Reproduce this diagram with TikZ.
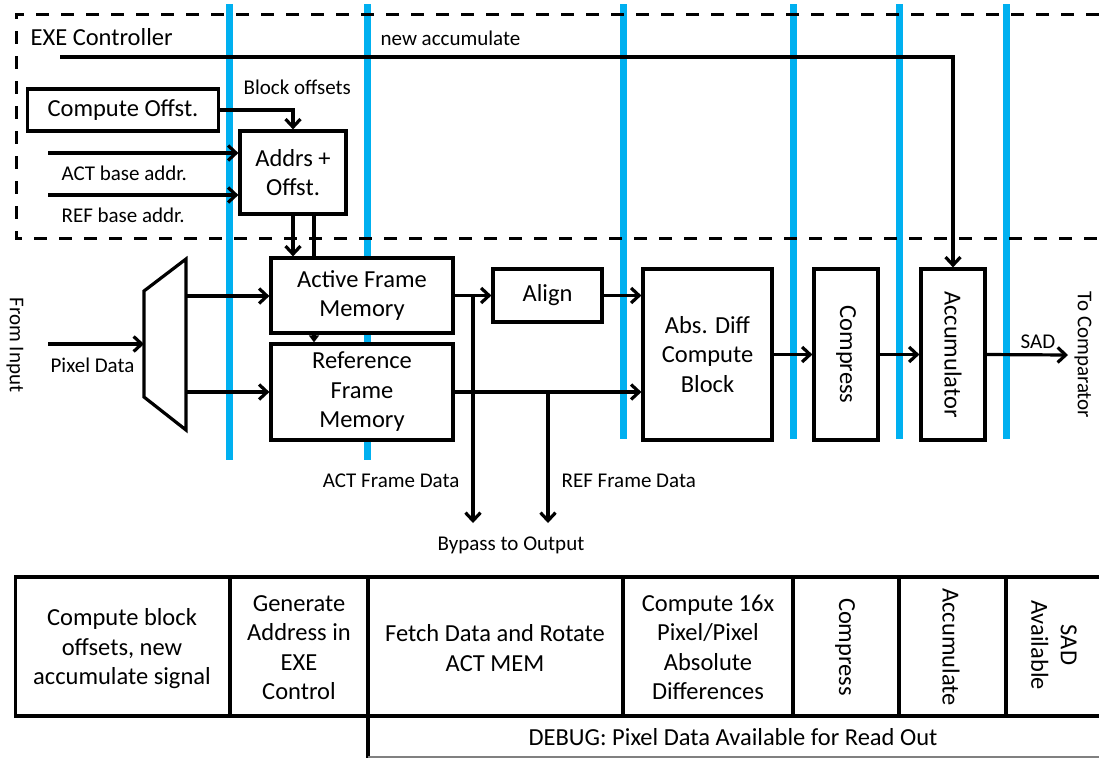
\documentclass[tikz,border=0pt]{standalone}
\usepackage{fontspec}
\setmainfont{Carlito}
\usetikzlibrary{arrows.meta,calc}
\definecolor{pipe}{RGB}{0,176,240}
\begin{document}
\begin{tikzpicture}[x=1pt,y=-1pt,
  line width=3.2pt,
  big/.style={font=\fontsize{24.5}{29.5}\selectfont},
  small/.style={font=\fontsize{21}{25}\selectfont},
  blk/.style={draw, fill=white, inner sep=0pt, align=center, big},
  arr/.style={-{Straight Barb[length=8pt,width=15pt]}},
  stage/.style={draw=pipe, line width=7pt},
  lbl/.style={inner sep=0pt, small},
  cell/.style={inner sep=0pt, align=center, big},
]
\useasboundingbox (0,0) rectangle (1099,758);

% pipeline stage lines
\foreach \x/\yb in {229/460,367/460,623/439,793/439,899/439,1006/439}
  \draw[stage] (\x,4) -- (\x,\yb);

% EXE controller dashed region
\draw[line width=3pt, dash pattern=on 13pt off 12pt] (1099,14) -- (16,14) -- (16,238) -- (1099,238);

% blocks
\node[blk, minimum width=191pt, minimum height=42pt] (off) at (123,110) {Compute Offst.};
\node[blk, minimum width=106pt, minimum height=83pt] (addr) at (293,172.5) {Addrs +\\Offst.};
\node[blk, minimum width=182pt, minimum height=75pt] (act) at (362,295.5) {Active Frame\\Memory};
\node[blk, minimum width=182pt, minimum height=96pt] (ref) at (362,392) {Reference\\Frame\\Memory};
\node[blk, minimum width=109pt, minimum height=53pt] (align) at (547.5,295.5) {Align};
\node[blk, minimum width=129pt, minimum height=171pt] (abs) at (707.5,354.5) {Abs. Diff\\Compute\\Block};
\node[blk, rotate=-90, minimum width=171pt, minimum height=64pt] (comp) at (846,354.5) {Compress};
\node[blk, rotate=-90, minimum width=171pt, minimum height=64pt] (accu) at (953,354.5) {Accumulator};

% mux
\draw (144,291) -- (186,259) -- (186,430) -- (144,397) -- cycle;
\coordinate (muxin) at (144,344);
\coordinate (muxa) at (186,296);
\coordinate (muxb) at (186,392);

% connectors (rotated nodes: west = top, south = left, north = right)
\coordinate (nacc) at (60,57);
\draw[arr] (nacc) -| (accu.west);
\draw[arr] (off.east) -| (addr.north);
\coordinate (actin) at (48,153);
\draw[arr] (actin) -- (actin -| addr.west);
\coordinate (refin) at (48,195);
\draw[arr] (refin) -- (refin -| addr.west);
\draw[arr] (addr.south) -- (addr.south |- act.north);
\coordinate (tap) at (314,0);
\draw (tap |- addr.south) -- (tap |- act.north);
\draw[-{Triangle[length=7pt,width=10pt]}] (tap |- act.south) -- (tap |- ref.north);
\coordinate (pin) at (48,344);
\draw[arr] (pin) -- (muxin);
\draw[arr] (muxa) -- (muxa -| act.west);
\draw[arr] (muxb) -- (muxb -| ref.west);
\draw[arr] (act.east) -- (align.west);
\coordinate (bp1) at (473,523);
\draw[arr] (bp1 |- act.east) -- (bp1);
\draw[arr] (ref.east) -- (ref.east -| abs.west);
\coordinate (bp2) at (548,523);
\draw[arr] (bp2 |- ref.east) -- (bp2);
\draw[arr] (align.east) -- (align.east -| abs.west);
\draw[arr] (abs.east) -- (comp.south);
\draw[arr] (comp.north) -- (accu.south);
\coordinate (sad) at (1068,355);
\draw[arr] (accu.north) -- (sad);

% labels
\node[lbl, big, anchor=west] (exe) at (29,37) {EXE Controller};
\node[lbl, anchor=west] (nacl) at (379,38) {new accumulate};
\node[lbl, anchor=west] (bol) at (242,87) {Block offsets};
\node[lbl, anchor=west] (actl) at (60,173) {ACT base addr.};
\node[lbl, anchor=west] (refl) at (60,215) {REF base addr.};
\node[lbl, anchor=west] (pxl) at (49,365) {Pixel Data};
\node[lbl, rotate=-90] (fin) at (15,345) {From Input};
\node[lbl, anchor=east] (actfd) at (461,481) {ACT Frame Data};
\node[lbl, anchor=west] (reffd) at (560,481) {REF Frame Data};
\node[lbl] (byp) at (511,545) {Bypass to Output};
\node[lbl] (sadl) at (1038,342) {SAD};
\node[lbl, rotate=-90] (toc) at (1083,355) {To Comparator};

% stage table
\draw (1099,577) -- (15.5,577) -- (15.5,716) -- (1099,716);
\foreach \x in {230,368,623,793,899,1006} \draw (\x,577) -- (\x,716);
\draw (368,716) -- (368,758);
\draw[line width=2pt, gray] (368,757) -- (1099,757);

\node[cell] (c1) at (122,649) {Compute block\\offsets, new\\accumulate signal};
\node[cell] (c2) at (299,647.5) {Generate\\Address in\\EXE\\Control};
\node[cell] (c3) at (495,648) {Fetch Data and Rotate\\ACT MEM};
\node[cell] (c4) at (708,647.5) {Compute 16x\\Pixel/Pixel\\Absolute\\Differences};
\node[cell, rotate=-90] (c5) at (845,647) {Compress};
\node[cell, rotate=-90] (c6) at (951,647) {Accumulate};
\node[cell, rotate=-90] (c7) at (1054,645) {SAD\\Available};
\node[cell] (dbg) at (733,737) {DEBUG: Pixel Data Available for Read Out};
\end{tikzpicture}
\end{document}
